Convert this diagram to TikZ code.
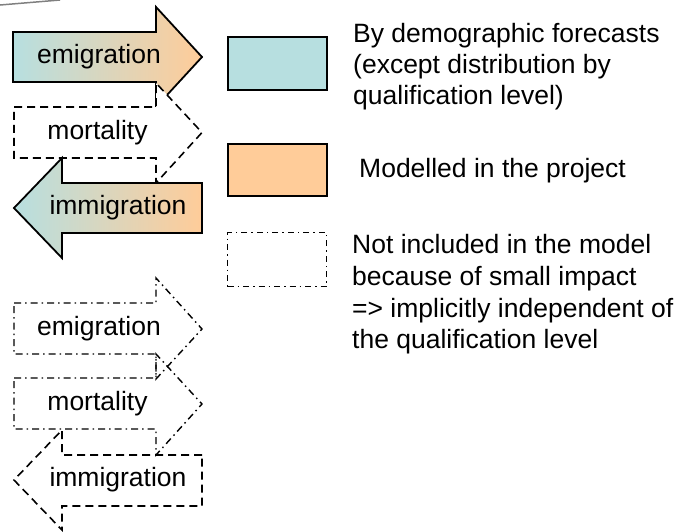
\documentclass[tikz,border=0pt]{standalone}
\usepackage{fontspec}
\setmainfont{Liberation Sans}
\definecolor{blueF}{HTML}{B7DFE0}
\definecolor{orangeF}{HTML}{FFCC99}
\tikzset{
  solidarrow/.style={draw=black, line width=1.8pt, left color=blueF, right color=orangeF, line join=miter},
  dasharrow/.style={draw=black, line width=1.6pt, dash pattern=on 8pt off 5pt},
  dotarrow/.style={draw=black, line width=1.4pt, dash pattern=on 7pt off 4pt on 1.5pt off 4pt},
  lbl/.style={font=\fontsize{26.5}{31}\selectfont, inner sep=0pt},
  legtxt/.style={font=\fontsize{26.5}{31}\selectfont, inner sep=0pt, anchor=base west},
}
\begin{document}
\begin{tikzpicture}[x=1pt,y=-1pt]
\useasboundingbox (0,0) rectangle (689,531);
% top-left grey rule
\draw[gray, line width=1.5pt] (0,5) -- (60,0);
% ---- upper group ----
\path[solidarrow] (13,32) -- (156,32) -- (156,7) -- (202,57) -- (156,107) -- (156,82) -- (13,82) -- cycle;
\path[dasharrow, fill=white] (14,107) -- (156,107) -- (156,83) -- (202,132.5) -- (156,183) -- (156,158) -- (14,158) -- cycle;
\path[solidarrow] (202,183) -- (62,183) -- (62,158) -- (14,208) -- (62,258) -- (62,233) -- (202,233) -- cycle;
\node[lbl] (em1) at (99,57) {emigration};
\node[lbl] (mo1) at (97.5,132.5) {mortality};
\node[lbl] (im1) at (118,208) {immigration};
% ---- lower group ----
\path[dotarrow] (14,303) -- (156,303) -- (156,278) -- (202,329) -- (156,379) -- (156,354) -- (14,354) -- cycle;
\path[dotarrow] (14,378) -- (156,378) -- (156,354) -- (202,404) -- (156,455) -- (156,429) -- (14,429) -- cycle;
\path[dasharrow] (202,455) -- (62,455) -- (62,430) -- (14,480) -- (62,530) -- (62,506) -- (202,506) -- cycle;
\node[lbl] (em2) at (99,329) {emigration};
\node[lbl] (mo2) at (97.5,404) {mortality};
\node[lbl] (im2) at (118,480) {immigration};
% ---- legend ----
\node[draw=black, line width=1.6pt, fill=blueF, minimum width=99pt, minimum height=53pt, inner sep=0pt, anchor=north west] (lb) at (227,36) {};
\node[draw=black, line width=1.6pt, fill=orangeF, minimum width=99pt, minimum height=52pt, inner sep=0pt, anchor=north west] (lo) at (227,143) {};
\node[draw=black, line width=1.1pt, dash pattern=on 6pt off 4pt on 1.5pt off 4pt, minimum width=99pt, minimum height=54pt, inner sep=0pt, anchor=north west] (ln) at (227,232) {};
\node[legtxt] (t1a) at (353,42) {By demographic forecasts};
\node[legtxt] (t1b) at (353,73) {(except distribution by};
\node[legtxt] (t1c) at (353,104) {qualification level)};
\node[legtxt] (t2) at (359,177) {Modelled in the project};
\node[legtxt] (t3a) at (352,253) {Not included in the model};
\node[legtxt] (t3b) at (352,285) {because of small impact};
\node[legtxt] (t3c) at (352,317) {=> implicitly independent of};
\node[legtxt] (t3d) at (352,348) {the qualification level};
\end{tikzpicture}
\end{document}
